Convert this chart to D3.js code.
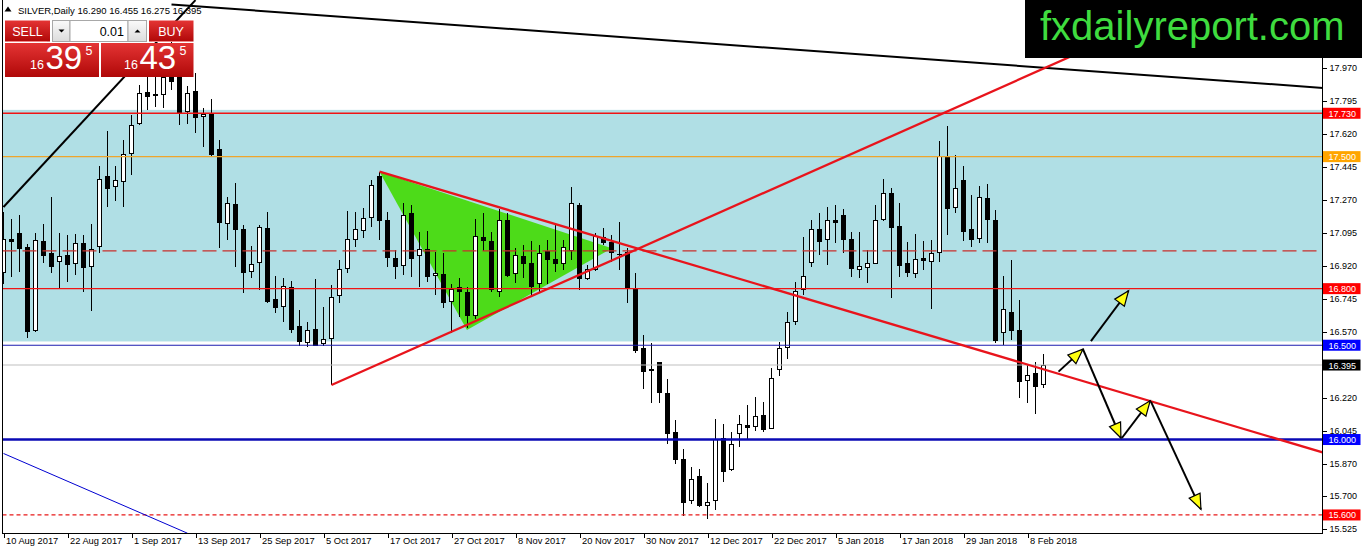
<!DOCTYPE html>
<html><head><meta charset="utf-8">
<script src="https://cdn.jsdelivr.net/npm/d3@7/dist/d3.min.js"></script>
<style>
html,body{margin:0;padding:0;background:#fff;overflow:hidden}
svg{display:block;font-family:"Liberation Sans",Arial,sans-serif}
</style></head><body>
<svg id="c" width="1362" height="554"></svg>
<script>
// ---------- DATA ----------
const symbolTitle = "SILVER,Daily 16.290 16.455 16.275 16.395";
const openP = [16.888,17.058,17.093,17.019,16.577,17.049,16.984,16.945,16.977,16.934,17.042,16.916,17.023,17.397,17.339,17.369,17.516,17.677,17.841,17.828,17.831,17.919,17.930,17.738,17.843,17.712,17.721,17.539,17.147,17.244,17.111,16.890,16.940,17.120,16.740,16.704,16.807,16.598,16.514,16.581,16.510,16.537,16.766,16.908,17.061,17.106,17.178,17.394,17.160,16.961,16.925,17.196,16.977,17.008,16.869,16.876,16.731,16.807,16.779,16.655,17.072,17.052,16.787,17.164,16.881,16.973,16.931,16.828,16.996,16.957,16.931,17.001,17.243,16.855,16.899,17.072,17.044,16.982,16.991,16.796,16.484,16.372,16.409,16.245,16.038,15.892,15.676,15.803,15.651,15.676,16.007,15.839,16.033,16.075,16.068,16.130,16.056,16.372,16.489,16.625,16.793,16.938,17.114,17.058,17.164,17.190,17.058,16.902,16.913,16.934,17.167,17.302,17.132,16.931,16.881,16.962,16.943,16.991,17.500,17.231,17.372,17.111,17.067,17.279,17.164,16.567,16.673,16.577,16.312,16.348,16.290];
const highP = [17.208,17.167,17.190,17.037,17.097,17.143,17.288,17.093,17.084,17.090,17.084,17.143,17.450,17.638,17.450,17.588,17.721,17.880,17.930,17.940,18.050,18.200,17.980,17.875,17.942,17.756,17.804,17.588,17.288,17.359,17.138,17.026,17.139,17.205,16.867,16.855,16.842,16.687,16.625,16.849,16.701,16.820,16.952,17.213,17.208,17.226,17.376,17.420,17.208,17.005,17.252,17.243,17.102,17.107,16.996,16.987,16.825,16.855,16.810,17.167,17.199,17.102,17.220,17.199,17.014,17.031,17.054,17.031,17.058,17.137,17.058,17.341,17.252,16.925,17.097,17.120,17.084,17.155,17.014,16.881,16.554,16.510,16.411,16.319,16.104,15.948,15.853,15.842,15.771,16.107,16.083,16.042,16.130,16.183,16.224,16.201,16.378,16.519,16.678,16.837,17.072,17.164,17.203,17.231,17.243,17.220,17.102,17.102,17.005,17.243,17.379,17.332,17.256,17.050,17.090,17.053,17.058,17.584,17.662,17.508,17.450,17.296,17.344,17.355,17.217,16.867,16.952,16.740,16.395,16.413,16.455];
const lowP = [16.824,16.860,16.890,16.536,16.570,16.938,16.885,16.805,16.837,16.872,16.784,16.683,16.987,17.235,17.267,17.235,17.403,17.670,17.747,17.765,17.760,17.853,17.668,17.673,17.625,17.551,17.505,17.014,17.058,16.917,16.779,16.855,16.793,16.725,16.673,16.625,16.567,16.496,16.492,16.496,16.496,16.289,16.722,16.881,17.022,17.067,17.129,17.058,16.917,16.849,16.872,16.860,16.810,16.837,16.766,16.696,16.567,16.651,16.590,16.637,17.001,16.784,16.757,16.864,16.828,16.855,16.761,16.779,16.825,16.890,16.899,16.952,16.793,16.846,16.895,17.031,16.943,16.899,16.726,16.461,16.266,16.192,16.196,15.977,15.870,15.595,15.658,15.644,15.577,15.627,15.777,15.835,15.959,16.001,16.047,16.042,16.054,16.337,16.425,16.607,16.766,16.913,16.978,16.925,17.044,16.987,16.864,16.855,16.828,16.934,17.159,16.749,16.863,16.863,16.855,16.899,16.690,16.943,17.084,17.199,17.054,17.022,17.044,17.044,16.510,16.501,16.528,16.218,16.192,16.135,16.275];
const closeP = [17.060,17.050,17.014,16.572,17.054,16.977,16.916,16.971,16.927,17.037,16.911,17.008,17.381,17.332,17.372,17.510,17.666,17.836,17.818,17.824,17.919,17.901,17.731,17.836,17.706,17.726,17.509,17.150,17.249,17.115,16.885,16.929,17.125,16.731,16.699,16.810,16.585,16.519,16.576,16.501,16.531,16.754,16.902,17.058,17.111,17.173,17.349,17.164,16.966,16.917,17.190,16.959,17.005,16.863,16.881,16.726,16.796,16.787,16.657,17.075,17.054,16.793,17.164,16.872,16.975,16.934,16.814,16.987,16.955,16.934,17.019,17.249,16.855,16.899,17.075,17.044,16.991,16.978,16.802,16.471,16.360,16.366,16.249,16.033,15.895,15.665,15.789,15.648,15.665,16.001,15.830,15.975,16.081,16.065,16.121,16.051,16.325,16.484,16.620,16.784,16.864,17.111,17.049,17.159,17.150,17.058,16.908,16.920,16.931,17.164,17.305,17.123,16.922,16.885,16.955,16.948,16.987,17.500,17.224,17.332,17.102,17.058,17.284,17.167,16.524,16.687,16.577,16.307,16.342,16.280,16.395];

const dateTickIndex = [0,8,16,24,32,40,48,56,64,72,80,88,96,104,112,120,128];
const dateTickLabels = ["10 Aug 2017","22 Aug 2017","1 Sep 2017","13 Sep 2017","25 Sep 2017","5 Oct 2017","17 Oct 2017","27 Oct 2017","8 Nov 2017","20 Nov 2017","30 Nov 2017","12 Dec 2017","22 Dec 2017","5 Jan 2018","17 Jan 2018","29 Jan 2018","8 Feb 2018"];
const priceTicks = [17.970,17.795,17.620,17.445,17.270,17.095,16.920,16.745,16.570,16.220,16.045,15.870,15.700,15.525];

const zoneBand = [17.748, 16.520];
const levelPrices = [17.730, 17.500, 17.000, 16.800, 16.500, 16.395, 16.000, 15.600];
const levelKinds  = ["red","orange","dash","red","blue","grey","blueThick","dot"];
const levelLabelled = [true,true,false,true,true,true,true,true];

// trend lines: [index, price] pairs
const blackLineA = [[0,17.233],[24,18.330]];
const blackLineB = [[21,18.307],[165,17.864]];
const blueLine   = [[0,15.926],[23,15.503]];
const redRising  = [[41,16.289],[175,18.815]];
const redFalling = [[47,17.420],[175,15.804]];
const triangle   = [[47,17.420],[57.93,16.581],[76.05,17.014]];
const arrowFrom  = [[131.88,16.360],[135.93,16.522],[134.93,16.479],[139.8,16.008],[143.43,16.201]];
const arrowTo    = [[134.93,16.479],[140.63,16.789],[139.68,16.008],[143.34,16.206],[149.68,15.630]];

// ---------- STYLE / LAYOUT ----------
const W = 1362, H = 554;
const plotL = 2.5, plotR = 1322.5, plotB = 533.5;
const kindStyle = {
  red:{stroke:"#f01414",w:1.3,dash:null,box:"#ff0000"},
  orange:{stroke:"#eea52c",w:1.3,dash:null,box:"#ffa500"},
  dash:{stroke:"#c8302c",w:1.3,dash:"14,6",box:null},
  blue:{stroke:"#1c1cb0",w:1.2,dash:null,box:"#0000ff"},
  grey:{stroke:"#c0c0c0",w:1.1,dash:null,box:"#000000"},
  blueThick:{stroke:"#0a0ab4",w:2.5,dash:null,box:"#0000ff"},
  dot:{stroke:"#e81818",w:1.3,dash:"4,3",box:"#ff0000"}
};

const svg = d3.select("#c");
const x = d3.scaleLinear().domain([0,130]).range([3.5,1043.5]);
const y = d3.scaleLinear().domain([15.525,17.970]).range([529.1,68]);

const defs = svg.append("defs");
defs.append("clipPath").attr("id","plot").append("rect")
  .attr("x",plotL+0.5).attr("y",0).attr("width",plotR-plotL-0.5).attr("height",plotB);
const g1 = defs.append("linearGradient").attr("id","redg").attr("x1",0).attr("y1",0).attr("x2",0).attr("y2",1);
g1.append("stop").attr("offset","0").attr("stop-color","#e43434");
g1.append("stop").attr("offset","1").attr("stop-color","#b00808");
const g2 = defs.append("linearGradient").attr("id","greyg").attr("x1",0).attr("y1",0).attr("x2",0).attr("y2",1);
g2.append("stop").attr("offset","0").attr("stop-color","#fafafa");
g2.append("stop").attr("offset","1").attr("stop-color","#dcdcdc");

const plot = svg.append("g").attr("clip-path","url(#plot)");

// zone
plot.append("rect").attr("x",plotL).attr("width",plotR-plotL)
  .attr("y",y(zoneBand[0])).attr("height",y(zoneBand[1])-y(zoneBand[0]))
  .attr("fill","#b0dfe5");

// triangle
plot.append("path")
  .attr("d", d3.line().x(d=>x(d[0])).y(d=>y(d[1]))(triangle)+"Z")
  .attr("fill","#4ddb19");

// candles
const candles = plot.append("g").attr("shape-rendering","crispEdges");
openP.forEach((o,i)=>{
  const c = closeP[i], cx = x(i);
  candles.append("line").attr("x1",cx).attr("x2",cx)
    .attr("y1",y(highP[i])).attr("y2",y(lowP[i])).attr("stroke","#000");
  const top = y(Math.max(o,c)), bot = y(Math.min(o,c));
  if (bot-top < 1.2) {
    candles.append("line").attr("x1",cx-2.5).attr("x2",cx+2.5)
      .attr("y1",(top+bot)/2).attr("y2",(top+bot)/2).attr("stroke","#000").attr("stroke-width",1.5);
  } else {
    candles.append("rect").attr("x",cx-2).attr("width",4)
      .attr("y",top).attr("height",bot-top)
      .attr("fill", c>=o ? "#fff" : "#000").attr("stroke","#000");
  }
});

// horizontal levels
levelPrices.forEach((p,i)=>{
  const s = kindStyle[levelKinds[i]];
  plot.append("line").attr("x1",plotL).attr("x2",plotR)
    .attr("y1",y(p)).attr("y2",y(p))
    .attr("stroke",s.stroke).attr("stroke-width",s.w)
    .attr("stroke-dasharray",s.dash);
});

// trend lines
const ln = d3.line().x(d=>x(d[0])).y(d=>y(d[1]));
[[blackLineA,"#000",2],[blackLineB,"#000",2],[blueLine,"#0000d0",1],[redRising,"#e8141c",2.3],[redFalling,"#e8141c",2.3]]
  .forEach(([pts,col,w])=>{
    plot.append("path").attr("d",ln(pts)).attr("fill","none").attr("stroke",col).attr("stroke-width",w);
  });

// arrows
arrowFrom.forEach((f,i)=>{
  const t = arrowTo[i];
  const x1=x(f[0]), y1=y(f[1]), x2=x(t[0]), y2=y(t[1]);
  plot.append("line").attr("x1",x1).attr("y1",y1).attr("x2",x2).attr("y2",y2)
    .attr("stroke","#000").attr("stroke-width",2);
  const a = Math.atan2(y2-y1,x2-x1), L=15, hw=6;
  const bx = x2-L*Math.cos(a), by = y2-L*Math.sin(a);
  const px = -Math.sin(a)*hw, py = Math.cos(a)*hw;
  plot.append("path")
    .attr("d",`M${x2},${y2}L${bx+px},${by+py}L${bx-px},${by-py}Z`)
    .attr("fill","#ffff10").attr("stroke","#000").attr("stroke-width",1.2);
});

// frame
const frame = svg.append("g").attr("shape-rendering","crispEdges").attr("stroke","#000");
frame.append("line").attr("x1",plotL).attr("x2",plotL).attr("y1",0).attr("y2",plotB);
frame.append("line").attr("x1",plotL).attr("x2",plotR).attr("y1",plotB).attr("y2",plotB);
frame.append("line").attr("x1",plotR).attr("x2",plotR).attr("y1",0).attr("y2",plotB);

// right axis
const ra = svg.append("g").attr("transform",`translate(${plotR},0)`)
  .call(d3.axisRight(y).tickValues(priceTicks).tickSize(4).tickPadding(3).tickFormat(d3.format(".3f")));
ra.select(".domain").remove();
ra.selectAll("line").attr("shape-rendering","crispEdges");
ra.selectAll("text").attr("font-size","9px").attr("font-family","Liberation Sans, Arial, sans-serif").attr("fill","#000");

// bottom axis
const ba = svg.append("g").attr("transform",`translate(0,${plotB})`)
  .call(d3.axisBottom(x).tickValues(dateTickIndex).tickSize(4).tickFormat((d,i)=>dateTickLabels[i]));
ba.select(".domain").remove();
ba.selectAll("line").attr("shape-rendering","crispEdges");
ba.selectAll("text").attr("text-anchor","start").attr("dx","2px").attr("dy","0.35em").attr("y",7)
  .attr("font-size","9.3px").attr("font-family","Liberation Sans, Arial, sans-serif").attr("fill","#000");

// level label boxes
levelPrices.forEach((p,i)=>{
  if(!levelLabelled[i]) return;
  const s = kindStyle[levelKinds[i]];
  const yy = y(p);
  svg.append("rect").attr("x",plotR+0.5).attr("y",yy-5.5).attr("width",37.5).attr("height",11)
    .attr("fill",s.box);
  svg.append("text").attr("x",plotR+6).attr("y",yy+3.5).attr("font-size","9px")
    .attr("fill","#fff").text(d3.format(".3f")(p));
});

// logo
svg.append("rect").attr("x",1025).attr("y",0).attr("width",W-1025).attr("height",58).attr("fill","#000");
svg.append("text").attr("x",1040).attr("y",40).attr("font-size","40px").attr("fill","#3fdc3f")
  .text("fxdailyreport.com");

// title
svg.append("path").attr("d","M4.5,11.5L8,6.5L11.5,11.5Z").attr("fill","#000");
svg.append("text").attr("x",18).attr("y",13.5).attr("font-size","9.5px").attr("fill","#000").text(symbolTitle);

// trade panel
const tp = svg.append("g");
tp.append("rect").attr("x",5).attr("y",20.5).attr("width",45).attr("height",21).attr("fill","url(#redg)");
tp.append("text").attr("x",27.5).attr("y",35.5).attr("text-anchor","middle").attr("font-size","12.5px").attr("fill","#fff").text("SELL");
tp.append("rect").attr("x",52.5).attr("y",20.5).attr("width",17.5).attr("height",21).attr("fill","url(#greyg)").attr("stroke","#a8a8a8");
tp.append("path").attr("d","M58.5,29.5L64.5,29.5L61.5,32.5Z").attr("fill","#000");
tp.append("rect").attr("x",70).attr("y",20.5).attr("width",58).attr("height",21).attr("fill","#fff").attr("stroke","#a8a8a8");
tp.append("text").attr("x",124).attr("y",35.5).attr("text-anchor","end").attr("font-size","12.5px").attr("fill","#000").text("0.01");
tp.append("rect").attr("x",128).attr("y",20.5).attr("width",18.5).attr("height",21).attr("fill","url(#greyg)").attr("stroke","#a8a8a8");
tp.append("path").attr("d","M134.5,32.5L140.5,32.5L137.5,29.5Z").attr("fill","#000");
tp.append("rect").attr("x",149).attr("y",20.5).attr("width",44.5).attr("height",21).attr("fill","url(#redg)");
tp.append("text").attr("x",171).attr("y",35.5).attr("text-anchor","middle").attr("font-size","12.5px").attr("fill","#fff").text("BUY");
tp.append("line").attr("x1",8).attr("x2",47).attr("y1",41.5).attr("y2",41.5).attr("stroke","#e88").attr("stroke-width",1);
tp.append("line").attr("x1",152).attr("x2",190).attr("y1",41.5).attr("y2",41.5).attr("stroke","#e88").attr("stroke-width",1);
tp.append("rect").attr("x",5).attr("y",43).attr("width",94).attr("height",34).attr("fill","url(#redg)");
tp.append("rect").attr("x",101).attr("y",43).attr("width",92.5).attr("height",34).attr("fill","url(#redg)");
function price(x0, small, big, sup){
  tp.append("text").attr("x",x0).attr("y",68.5).attr("font-size","12.5px").attr("fill","#fff").text(small);
  tp.append("text").attr("x",x0+15.5).attr("y",69).attr("font-size","33px").attr("fill","#fff").text(big);
  tp.append("text").attr("x",x0+55.5).attr("y",55).attr("font-size","12.5px").attr("fill","#fff").text(sup);
}
price(30,"16","39","5");
price(124,"16","43","5");
</script>
</body></html>
